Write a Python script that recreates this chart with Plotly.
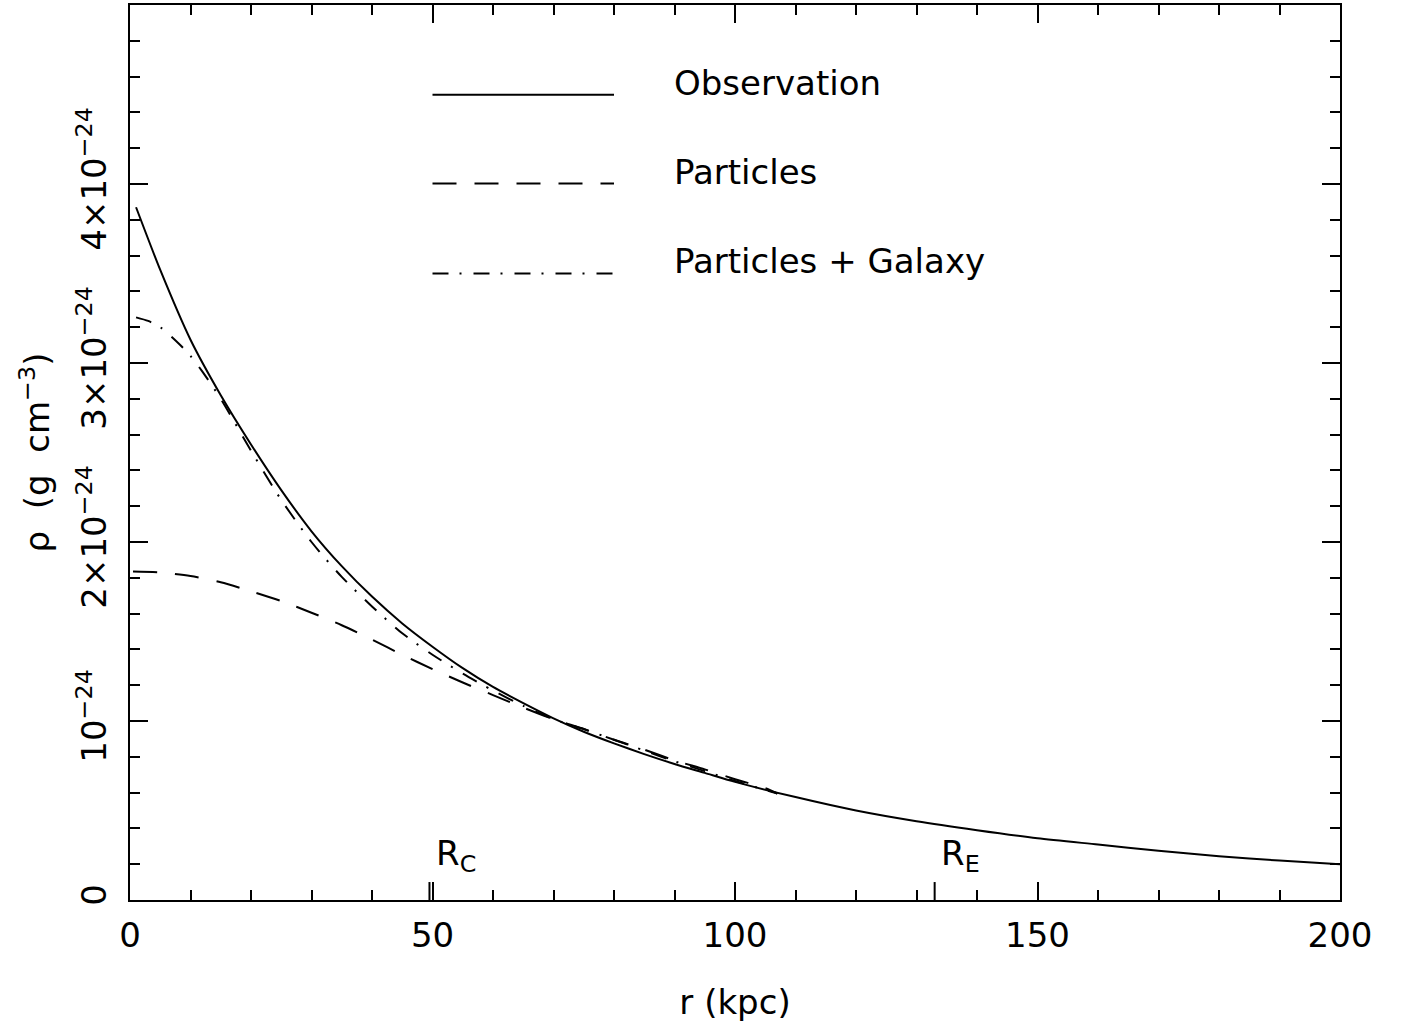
import plotly.graph_objects as go

# ---- data (density in units of 1e-24 g cm^-3, radius in kpc) ----
r_obs = [1, 5, 10, 15, 20, 25, 30, 35, 40, 45, 50, 55, 60, 65, 70, 75, 80, 85, 90, 95,
         100, 110, 120, 130, 140, 150, 160, 170, 180, 190, 200]
rho_obs = [3.87, 3.52, 3.13, 2.82, 2.545, 2.29, 2.06, 1.865, 1.695, 1.545, 1.415, 1.295,
           1.19, 1.10, 1.015, 0.94, 0.875, 0.815, 0.76, 0.71, 0.66, 0.575, 0.50, 0.44,
           0.39, 0.345, 0.31, 0.275, 0.245, 0.22, 0.20]

r_part = [0.5, 5, 10, 15, 20, 25, 30, 35, 40, 45, 50, 55, 60, 65, 70, 75, 80, 85, 90, 95,
          100, 105, 107]
rho_part = [1.835, 1.83, 1.81, 1.775, 1.725, 1.67, 1.605, 1.535, 1.455, 1.37, 1.29, 1.215,
            1.145, 1.075, 1.01, 0.955, 0.895, 0.84, 0.78, 0.73, 0.675, 0.625, 0.595]

r_pg = [1, 3, 5, 8, 10, 12, 15, 20, 25, 30, 35, 40, 45, 50, 55, 60, 65, 70, 75, 80, 85,
        90, 95, 100, 105, 107]
rho_pg = [3.255, 3.235, 3.20, 3.11, 3.04, 2.95, 2.80, 2.51, 2.235, 2.0, 1.805, 1.64, 1.49,
          1.37, 1.265, 1.17, 1.085, 1.01, 0.955, 0.895, 0.835, 0.775, 0.72, 0.665, 0.615,
          0.595]

x_ticks = [0, 50, 100, 150, 200]
y_ticks = [0, 1, 2, 3, 4]
y_ticktext = ["0", "10<sup>\u221224</sup>", "2\u00d710<sup>\u221224</sup>",
              "3\u00d710<sup>\u221224</sup>", "4\u00d710<sup>\u221224</sup>"]

R_C = 49.5
R_E = 133

legend_names = ["Observation", "Particles", "Particles\u00a0+\u00a0Galaxy"]
legend_dash = ["solid", "24px,18px", "16px,11px,2px,12px"]

FONT = "DejaVu Sans"
FS = 34
W, H = 1401, 1034
ML, MR, MT, MB = 130, 61, 3, 134
PH = H - MT - MB


def py(ypx):
    return (H - MB - ypx) / PH


fig = go.Figure()
fig.add_trace(go.Scatter(x=r_obs, y=rho_obs, mode="lines", name=legend_names[0],
                         line=dict(color="black", width=2, dash=legend_dash[0],
                                   shape="spline", smoothing=0.7)))
fig.add_trace(go.Scatter(x=r_part, y=rho_part, mode="lines", name=legend_names[1],
                         line=dict(color="black", width=2, dash=legend_dash[1],
                                   shape="spline", smoothing=0.7)))
fig.add_trace(go.Scatter(x=r_pg, y=rho_pg, mode="lines", name=legend_names[2],
                         line=dict(color="black", width=2, dash=legend_dash[2],
                                   shape="spline", smoothing=0.7)))

shapes = []
annotations = []
leg_y = [93, 182, 272]
for name, dash, yp in zip(legend_names, legend_dash, leg_y):
    shapes.append(dict(type="line", xref="x", yref="paper", x0=50, x1=80,
                       y0=py(yp), y1=py(yp), line=dict(color="black", width=2, dash=dash)))
    annotations.append(dict(text=name, xref="x", yref="paper", x=89.6, y=py(yp - 12),
                            xanchor="left", yanchor="middle", showarrow=False,
                            font=dict(family=FONT, size=FS, color="black")))

for rv, lab in [(R_C, "R<sub>C</sub>"), (R_E, "R<sub>E</sub>")]:
    shapes.append(dict(type="line", xref="x", yref="paper", x0=rv, x1=rv,
                       y0=0, y1=18 / PH, line=dict(color="black", width=2)))
    annotations.append(dict(text=lab, xref="x", yref="paper", x=rv + 0.7, y=py(855),
                            xanchor="left", yanchor="middle", showarrow=False,
                            font=dict(family=FONT, size=FS, color="black")))

fig.update_layout(
    width=W, height=H,
    margin=dict(l=ML, r=MR, t=MT, b=MB),
    paper_bgcolor="white", plot_bgcolor="white",
    showlegend=False,
    font=dict(family=FONT, size=FS, color="black"),
    shapes=shapes, annotations=annotations,
    xaxis=dict(range=[0, 200], tickvals=x_ticks, ticks="inside", ticklen=18, tickwidth=2,
               tickcolor="black", showline=True, linewidth=2, linecolor="black",
               mirror="ticks", showgrid=False, zeroline=False,
               minor=dict(dtick=10, ticklen=10, tickwidth=2, ticks="inside",
                          tickcolor="black", showgrid=False),
               title=dict(text="r\u00a0(kpc)", font=dict(family=FONT, size=FS), standoff=36),
               tickfont=dict(family=FONT, size=FS), ticklabelstandoff=4),
    yaxis=dict(range=[0, 5], tickvals=y_ticks, ticktext=y_ticktext, tickangle=-90,
               ticks="inside", ticklen=18, tickwidth=2, tickcolor="black",
               showline=True, linewidth=2, linecolor="black", mirror="ticks",
               showgrid=False, zeroline=False,
               minor=dict(dtick=0.2, ticklen=10, tickwidth=2, ticks="inside",
                          tickcolor="black", showgrid=False),
               title=dict(text="\u03c1\u00a0\u00a0(g\u00a0\u00a0cm<sup>\u22123</sup>)",
                          font=dict(family=FONT, size=FS), standoff=10),
               tickfont=dict(family=FONT, size=FS), ticklabelstandoff=8),
)

fig.write_html("out.html")
